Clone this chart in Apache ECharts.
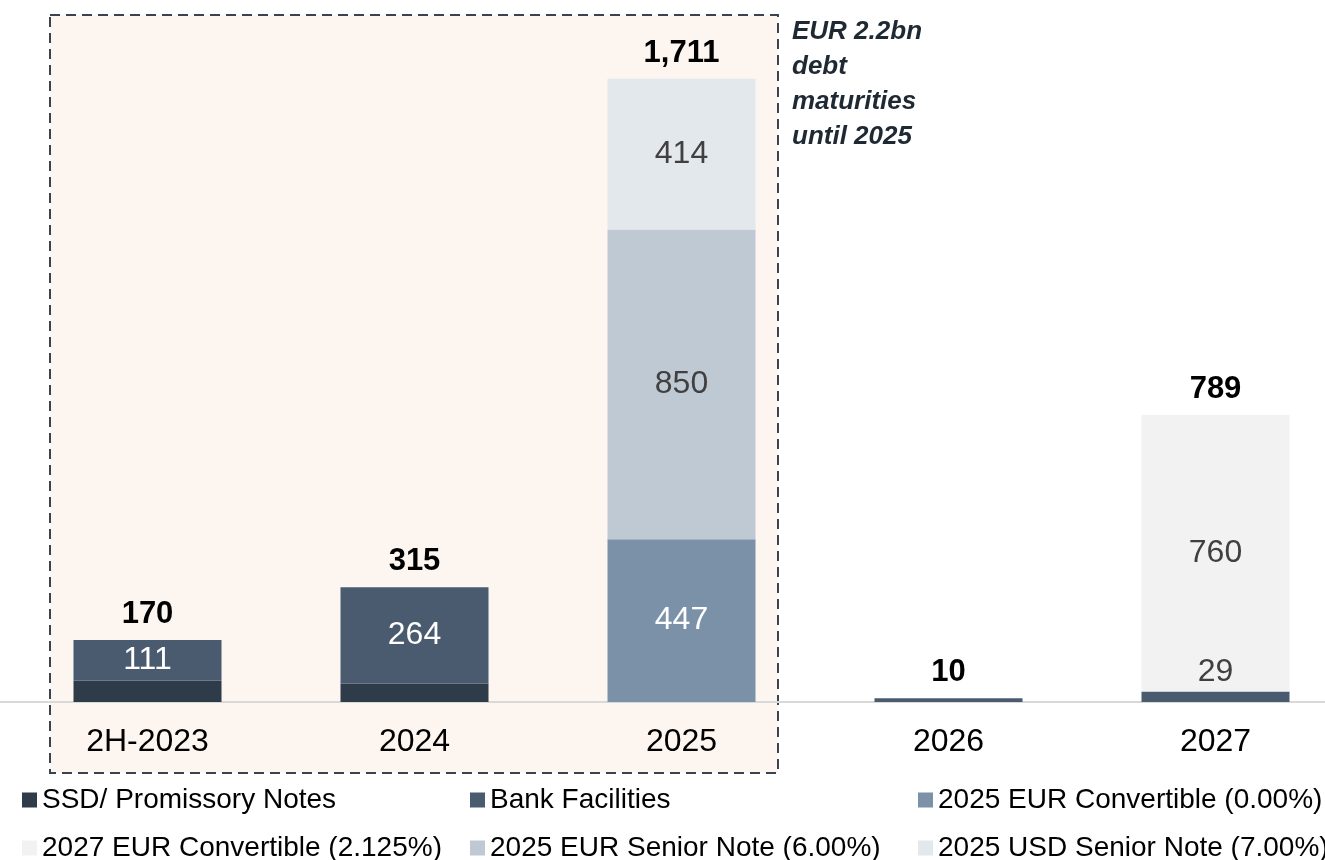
<!DOCTYPE html>
<html>
<head>
<meta charset="utf-8">
<script src="https://cdn.jsdelivr.net/npm/echarts@6/dist/echarts.min.js"></script>
<style>
  html, body { margin: 0; padding: 0; background: #fff; }
  #chart { width: 1325px; height: 860px; }
</style>
</head>
<body>
<div id="chart"></div>
<script>
const categories = ['2H-2023', '2024', '2025', '2026', '2027']
const ssdNotes = [59, 51, 0, 0, 0]
const bankFacilities = [111, 264, 0, 10, 29]
const eurConv2025 = [0, 0, 447, 0, 0]
const eurSenior2025 = [0, 0, 850, 0, 0]
const usdSenior2025 = [0, 0, 414, 0, 0]
const eurConv2027 = [0, 0, 0, 0, 760]

const colors = {
  'SSD/ Promissory Notes': '#2e3b48',
  'Bank Facilities': '#4a5b70',
  '2025 EUR Convertible (0.00%)': '#7a91a8',
  '2027 EUR Convertible (2.125%)': '#f2f2f2',
  '2025 EUR Senior Note (6.00%)': '#bfc9d4',
  '2025 USD Senior Note (7.00%)': '#e3e8ec',
}

const FONT = '"Liberation Sans", Arial, sans-serif'
const BAR_W = 148

const totals = categories.map((_, i) =>
  ssdNotes[i] + bankFacilities[i] + eurConv2025[i] + eurSenior2025[i] + usdSenior2025[i] + eurConv2027[i])

function stackSeries(name, data, labelColor, showLabel) {
  return {
    name,
    type: 'bar',
    stack: 'debt',
    barWidth: BAR_W,
    data: data.map(v => v),
    itemStyle: { color: colors[name] },
    label: {
      show: showLabel,
      position: 'inside',
      color: labelColor,
      fontSize: 32,
      fontFamily: FONT,
      formatter: p => (p.value ? p.value : ''),
    },
  }
}

const bankSeries = stackSeries('Bank Facilities', bankFacilities, '#ffffff', true)
bankSeries.data = bankFacilities.map((v, i) => {
  if (categories[i] === '2026') return { value: v, label: { show: false } }
  if (categories[i] === '2027') return { value: v, label: { position: 'top', distance: 3, color: '#404040' } }
  return v
})

const chart = echarts.init(document.getElementById('chart'))
const legendLeft = [17, 465, 913]
const legendTop = [781, 829]
const legendOrder = [
  'SSD/ Promissory Notes', 'Bank Facilities', '2025 EUR Convertible (0.00%)',
  '2027 EUR Convertible (2.125%)', '2025 EUR Senior Note (6.00%)', '2025 USD Senior Note (7.00%)',
]

chart.setOption({
  animation: false,
  backgroundColor: '#ffffff',
  grid: { left: 14, width: 1335, top: 10, bottom: 158, outerBoundsMode: 'none' },
  legend: legendOrder.map((n, i) => ({
    data: [n],
    left: legendLeft[i % 3],
    top: legendTop[Math.floor(i / 3)],
    icon: 'rect',
    itemWidth: 15,
    itemHeight: 15,
    selectedMode: false,
    textStyle: { fontSize: 28, fontFamily: FONT, color: '#000' },
  })),
  xAxis: {
    type: 'category',
    data: categories,
    axisLine: { lineStyle: { color: '#d9d9d9', width: 2 } },
    axisTick: { show: false },
    axisLabel: { color: '#000', fontSize: 32, fontFamily: FONT, margin: 24 },
  },
  yAxis: { type: 'value', min: 0, max: 1900, show: false },
  graphic: [
    {
      type: 'rect',
      z: -10,
      shape: { x: 50, y: 15, width: 728, height: 758 },
      style: { fill: '#fdf5f0', stroke: '#3a4450', lineWidth: 2, lineDash: [10, 6] },
    },
    {
      type: 'line',
      z: -5,
      shape: { x1: 0, y1: 702, x2: 14, y2: 702 },
      style: { stroke: '#d9d9d9', lineWidth: 2 },
    },
    {
      type: 'text',
      left: 792,
      top: 14,
      style: {
        text: 'EUR 2.2bn\ndebt\nmaturities\nuntil 2025',
        font: 'italic bold 26px "Liberation Sans", Arial, sans-serif',
        lineHeight: 35,
        fill: '#1f2933',
      },
    },
  ],
  series: [
    stackSeries('SSD/ Promissory Notes', ssdNotes, '#ffffff', false),
    bankSeries,
    stackSeries('2025 EUR Convertible (0.00%)', eurConv2025, '#ffffff', true),
    stackSeries('2025 EUR Senior Note (6.00%)', eurSenior2025, '#404040', true),
    stackSeries('2025 USD Senior Note (7.00%)', usdSenior2025, '#404040', true),
    stackSeries('2027 EUR Convertible (2.125%)', eurConv2027, '#404040', true),
    {
      name: 'Total',
      type: 'bar',
      barWidth: BAR_W,
      barGap: '-100%',
      silent: true,
      z: 1,
      data: totals,
      itemStyle: { color: 'rgba(0,0,0,0)' },
      label: {
        show: true,
        position: 'top',
        distance: 10,
        color: '#000',
        fontSize: 31,
        fontWeight: 'bold',
        fontFamily: FONT,
        formatter: p => p.value.toLocaleString('en-US'),
      },
    },
  ],
})
</script>
</body>
</html>
